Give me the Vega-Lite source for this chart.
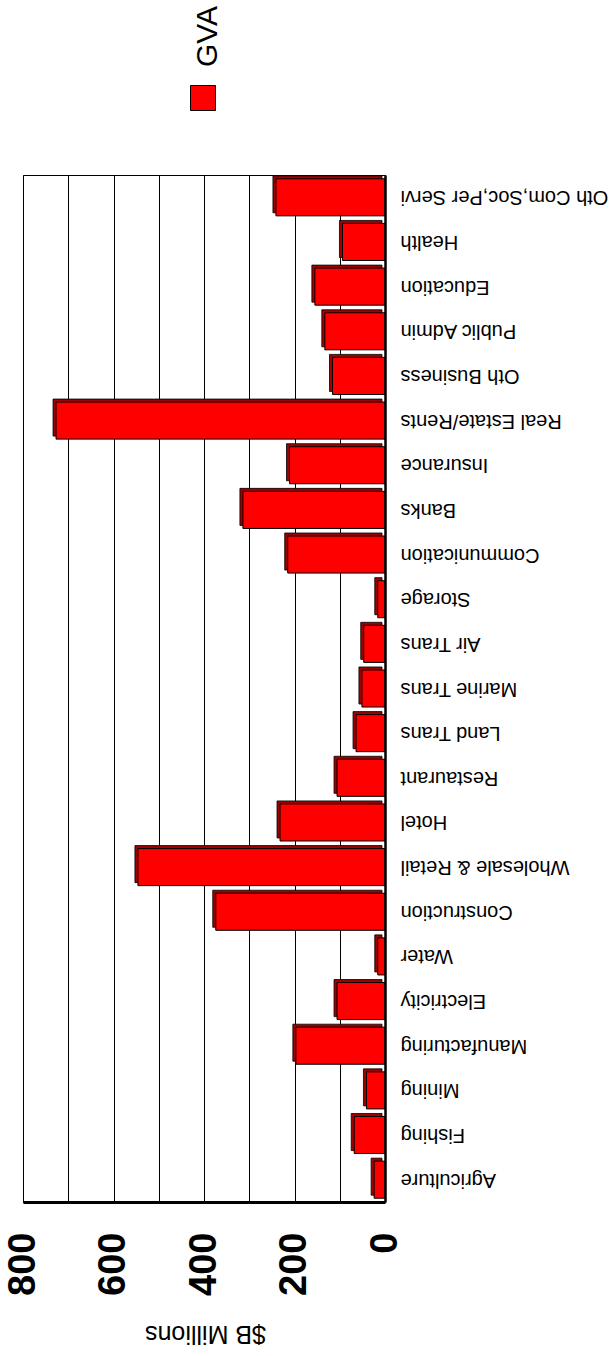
{
  "$schema": "https://vega.github.io/schema/vega-lite/v6.json",
  "width": 362,
  "height": 1027,
  "autosize": {"type": "none"},
  "padding": {"left": 23, "top": 175, "right": 231, "bottom": 154},
  "background": "white",
  "config": {
    "font": "Liberation Sans",
    "view": {"stroke": "black", "strokeWidth": 1}
  },
  "data": {
    "values": [
      {"sector": "Agriculture", "gva": 24, "series": "GVA"},
      {"sector": "Fishing", "gva": 68, "series": "GVA"},
      {"sector": "Mining", "gva": 41, "series": "GVA"},
      {"sector": "Manufacturing", "gva": 197, "series": "GVA"},
      {"sector": "Electricity", "gva": 106, "series": "GVA"},
      {"sector": "Water", "gva": 16, "series": "GVA"},
      {"sector": "Construction", "gva": 374, "series": "GVA"},
      {"sector": "Wholesale & Retail", "gva": 546, "series": "GVA"},
      {"sector": "Hotel", "gva": 232, "series": "GVA"},
      {"sector": "Restaurant", "gva": 106, "series": "GVA"},
      {"sector": "Land Trans", "gva": 64, "series": "GVA"},
      {"sector": "Marine Trans", "gva": 51, "series": "GVA"},
      {"sector": "Air Trans", "gva": 47, "series": "GVA"},
      {"sector": "Storage", "gva": 16, "series": "GVA"},
      {"sector": "Communication", "gva": 215, "series": "GVA"},
      {"sector": "Banks", "gva": 314, "series": "GVA"},
      {"sector": "Insurance", "gva": 211, "series": "GVA"},
      {"sector": "Real Estate/Rents", "gva": 727, "series": "GVA"},
      {"sector": "Oth Business", "gva": 116, "series": "GVA"},
      {"sector": "Public Admin", "gva": 133, "series": "GVA"},
      {"sector": "Education", "gva": 155, "series": "GVA"},
      {"sector": "Health", "gva": 94, "series": "GVA"},
      {"sector": "Oth Com,Soc,Per Servi", "gva": 241, "series": "GVA"}
    ]
  },
  "encoding": {
    "y": {
      "field": "sector",
      "type": "nominal",
      "sort": ["Oth Com,Soc,Per Servi", "Health", "Education", "Public Admin", "Oth Business", "Real Estate/Rents", "Insurance", "Banks", "Communication", "Storage", "Air Trans", "Marine Trans", "Land Trans", "Restaurant", "Hotel", "Wholesale & Retail", "Construction", "Water", "Electricity", "Manufacturing", "Mining", "Fishing", "Agriculture"],
      "scale": {"paddingInner": 0.17, "paddingOuter": 0.085},
      "axis": {
        "orient": "right",
        "title": null,
        "ticks": false,
        "grid": false,
        "labelAngle": 180,
        "labelAlign": "right",
        "labelBaseline": "middle",
        "labelFontSize": 20,
        "labelPadding": 15,
        "labelColor": "black",
        "labelLimit": 300,
        "domainColor": "black",
        "domainWidth": 2.5,
        "zindex": 1
      }
    },
    "x": {
      "field": "gva",
      "type": "quantitative",
      "scale": {"domain": [0, 800], "reverse": true, "nice": false},
      "axis": {
        "orient": "bottom",
        "values": [0, 100, 200, 300, 400, 500, 600, 700, 800],
        "labelExpr": "datum.value % 200 === 0 ? datum.label : ''",
        "grid": true,
        "gridColor": "black",
        "gridWidth": 1,
        "gridOpacity": 1,
        "ticks": false,
        "labelAngle": -90,
        "labelAlign": "right",
        "labelBaseline": "middle",
        "labelFontSize": 38,
        "labelFontWeight": "bold",
        "labelColor": "black",
        "labelPadding": 30,
        "labelFlush": false,
        "labelOverlap": false,
        "domainColor": "black",
        "domainWidth": 3,
        "title": "$B Millions",
        "titleAngle": 180,
        "titleFontSize": 25,
        "titleFontWeight": "normal",
        "titleColor": "black",
        "titleX": 182,
        "titleY": 131,
        "titleAlign": "center",
        "titleBaseline": "middle"
      }
    }
  },
  "layer": [
    {
      "mark": {"type": "bar", "fill": "#a00000", "stroke": "black", "strokeWidth": 0.8, "xOffset": -3, "yOffset": -3}
    },
    {
      "mark": {"type": "bar", "stroke": "black", "strokeWidth": 1},
      "encoding": {
        "color": {
          "field": "series",
          "type": "nominal",
          "scale": {"domain": ["GVA"], "range": ["#ff0000"]},
          "legend": {
            "title": null,
            "orient": "none",
            "legendX": 165,
            "legendY": -92,
            "padding": 0,
            "symbolType": "square",
            "symbolSize": 625,
            "symbolStrokeColor": "black",
            "symbolStrokeWidth": 1,
            "labelFontSize": 30,
            "labelColor": "black",
            "labelOffset": -10,
            "encoding": {
              "labels": {
                "angle": {"value": -90},
                "align": {"value": "left"},
                "baseline": {"value": "middle"},
                "dx": {"value": 31}
              }
            }
          }
        }
      }
    }
  ]
}
